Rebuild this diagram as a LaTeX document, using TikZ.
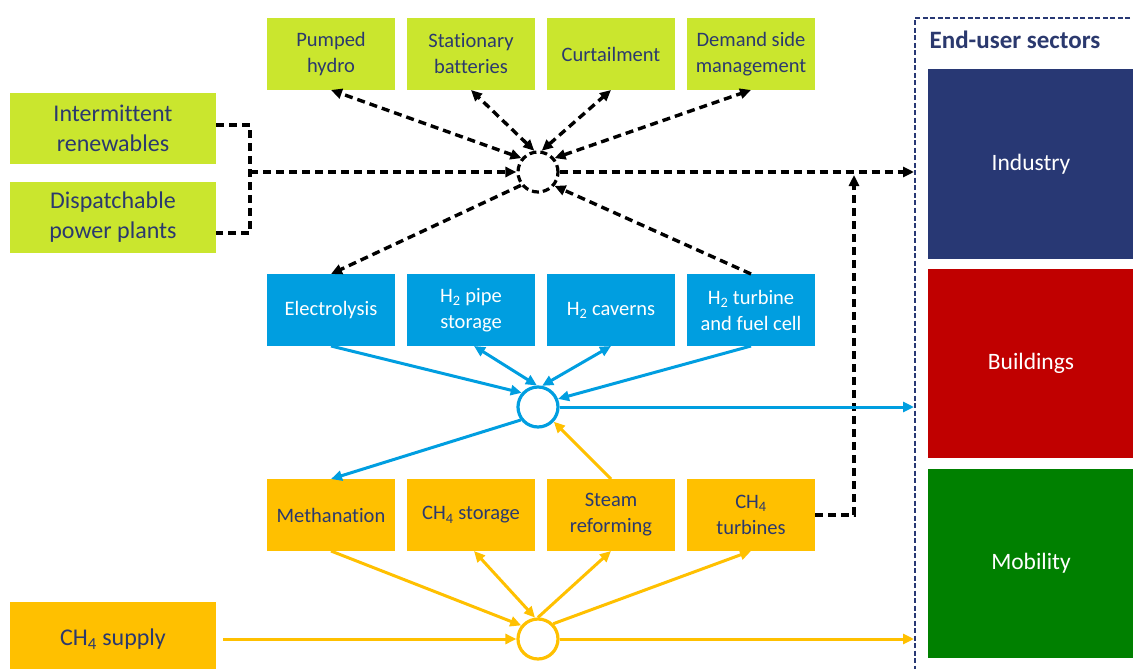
\documentclass[tikz,border=0pt]{standalone}
\usepackage{fontspec}
\setmainfont{Carlito}[Ligatures=NoCommon]
\usetikzlibrary{arrows.meta,calc}
\definecolor{lime}{RGB}{202,230,46}
\definecolor{htwo}{RGB}{0,158,224}
\definecolor{chfour}{RGB}{255,192,0}
\definecolor{navy}{RGB}{40,56,116}
\definecolor{txt}{RGB}{43,57,110}
\definecolor{bred}{RGB}{192,0,0}
\definecolor{mgreen}{RGB}{0,128,0}
\begin{document}
\begin{tikzpicture}[x=1pt,y=-1pt,
  >={Triangle[length=11pt,width=10pt]},
  box/.style={minimum width=128pt,minimum height=72pt,inner sep=0pt,outer sep=0pt,align=center,font=\fontsize{20.5}{26}\selectfont},
  gbox/.style={box,fill=lime,text=txt},
  bbox/.style={box,fill=htwo,text=white},
  obox/.style={box,fill=chfour,text=txt},
  bigbox/.style={minimum width=206pt,minimum height=71pt,inner sep=0pt,outer sep=0pt,align=center,font=\fontsize{24}{30}\selectfont,text=txt},
  sector/.style={minimum width=206pt,minimum height=190pt,inner sep=0pt,outer sep=0pt,text=white,font=\fontsize{23.5}{28}\selectfont},
  hub/.style={circle,minimum size=40pt,inner sep=0pt,fill=white,line width=3.2pt},
  blk/.style={line width=3.4pt,dash pattern=on 8pt off 5pt,black},
  bl/.style={line width=3pt,htwo},
  ora/.style={line width=3pt,chfour}]
\useasboundingbox (0,0) rectangle (1133,669);

% end-user frame
\node[draw=navy,line width=2.4pt,dash pattern=on 5pt off 2.5pt,minimum width=240pt,minimum height=680pt,inner sep=0pt,outer sep=0pt,anchor=north west] (eus) at (915,18) {};
\node[font=\bfseries\fontsize{25}{28}\selectfont,text=txt] (title) at (1015,40) {End-user sectors};
\node[sector,fill=navy] (ind) at (1031,164) {Industry};
\node[sector,fill=bred,minimum height=189pt] (bld) at (1031,363.5) {Buildings};
\node[sector,fill=mgreen,minimum height=189pt] (mob) at (1031,563.5) {Mobility};

% top row
\node[gbox] (p1) at (331,54) {Pumped\\hydro};
\node[gbox] (p2) at (471,54) {Stationary\\batteries};
\node[gbox] (p3) at (611,54) {Curtailment};
\node[gbox] (p4) at (751,54) {Demand side\\management};

% left
\node[bigbox,fill=lime] (l1) at (113,128.5) {Intermittent\\renewables};
\node[bigbox,fill=lime] (l2) at (113,217.5) {Dispatchable\\power plants};
\node[bigbox,fill=chfour,minimum height=74pt] (s) at (113,639) {CH\textsubscript{4} supply};

% hydrogen row
\node[bbox] (e1) at (331,310) {Electrolysis};
\node[bbox] (e2) at (471,310) {H\textsubscript{2} pipe\\storage};
\node[bbox] (e3) at (611,310) {H\textsubscript{2} caverns};
\node[bbox] (e4) at (751,310) {H\textsubscript{2} turbine\\and fuel cell};

% methane row
\node[obox] (m1) at (331,515) {Methanation};
\node[obox] (m2) at (471,515) {CH\textsubscript{4} storage};
\node[obox] (m3) at (611,515) {Steam\\reforming};
\node[obox] (m4) at (751,515) {CH\textsubscript{4}\\turbines};

% hubs
\node[hub,draw=black,dash pattern=on 7pt off 4pt] (c1) at (538,172) {};
\node[hub,draw=htwo] (c2) at (538,407) {};
\node[hub,draw=chfour] (c3) at (538,639) {};

\coordinate (jn) at (250,172);
\coordinate (j2) at (854,172);

% electricity (black dashed)
\draw[blk] ([yshift=3.5pt]l1.east) -| (jn) |- ([yshift=-15.5pt]l2.east);
\draw[blk,->] (jn) -- (c1.west);
\draw[blk,<->] (c1.140) -- (p1.south);
\draw[blk,<->] (c1.100) -- (p2.south);
\draw[blk,<->] (c1.80) -- (p3.south);
\draw[blk,<->] (c1.40) -- (p4.south);
\draw[blk,->] (c1.218) -- (e1.north);
\draw[blk,->] (e4.north) -- (c1.320);
\draw[blk,->,shorten >=1pt] (c1.east) -- (c1.east -| eus.west);
\draw[blk,->] (m4.east) -| ([yshift=-3pt]j2);

% hydrogen (blue)
\draw[bl,->] (e1.south) -- (c2.139);
\draw[bl,<->] ([xshift=3pt]e2.south) -- (c2.93);
\draw[bl,<->] (e3.south) -- (c2.79);
\draw[bl,->] (e4.south) -- (c2.22);
\draw[bl,->,shorten >=1pt] (c2.east) -- (c2.east -| eus.west);
\draw[bl,->] (c2.217) -- (m1.north);

% methane (orange)
\draw[ora,->] (m3.north) -- (c2.317);
\draw[ora,->] (m1.south) -- (c3.141);
\draw[ora,<->] ([xshift=3pt]m2.south) -- (c3.98);
\draw[ora,->] (c3.north) -- (m3.south);
\draw[ora,->] (c3.45) -- (m4.south);
\draw[ora,->] ([xshift=7pt]s.east) -- (c3.west);
\draw[ora,->,shorten >=1pt] (c3.east) -- (c3.east -| eus.west);
\end{tikzpicture}
\end{document}
